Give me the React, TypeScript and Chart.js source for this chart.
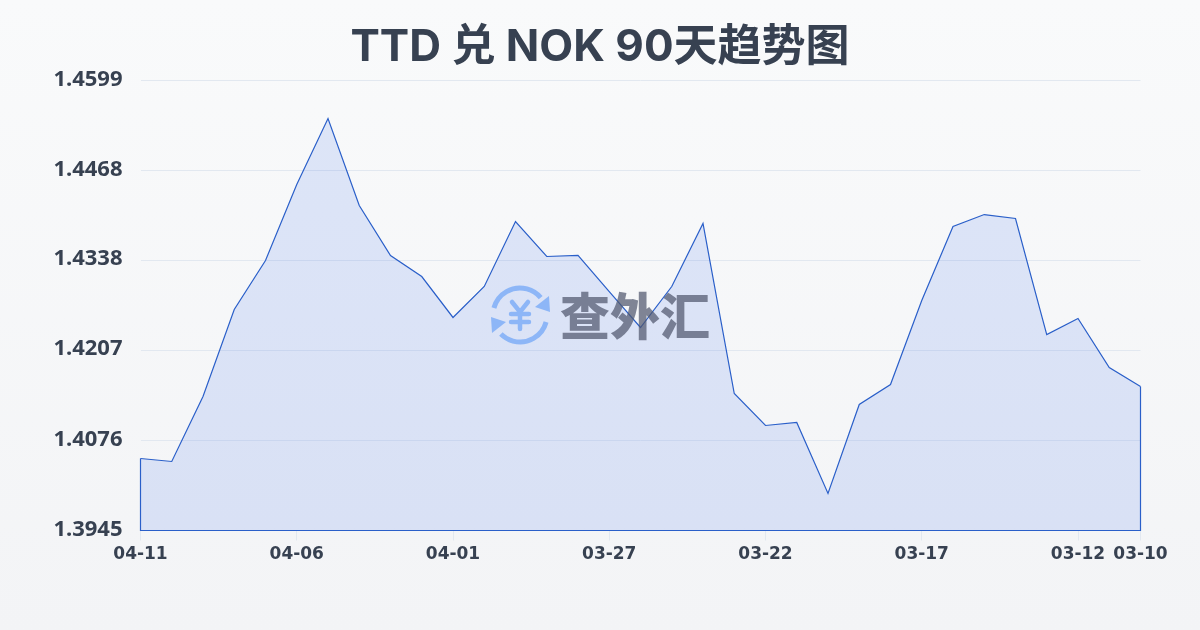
import React, { useEffect, useRef } from 'react';
import { Chart, registerables } from 'chart.js';

Chart.register(...registerables);

const dates = [
  '04-11', '04-10', '04-09', '04-08', '04-07', '04-06', '04-05', '04-04', '04-03', '04-02', '04-01',
  '03-31', '03-30', '03-29', '03-28', '03-27', '03-26', '03-25', '03-24', '03-23', '03-22',
  '03-21', '03-20', '03-19', '03-18', '03-17', '03-16', '03-15', '03-14', '03-13', '03-12', '03-11', '03-10',
];

const rates = [
  1.40496, 1.40453, 1.41397, 1.42662, 1.43374, 1.44478, 1.45438, 1.44173, 1.43447, 1.43141, 1.42546,
  1.42996, 1.43941, 1.43432, 1.43447, 1.42923, 1.424, 1.42996, 1.43912, 1.41441, 1.40976,
  1.4102, 1.39988, 1.41281, 1.41572, 1.42793, 1.43868, 1.44042, 1.43984, 1.42298, 1.42531, 1.41819, 1.41543,
];

const yTicks = [1.3945, 1.4076, 1.4207, 1.4338, 1.4468, 1.4599];
const xTickDates = ['04-11', '04-06', '04-01', '03-27', '03-22', '03-17', '03-12', '03-10'];

const LINE_COLOR = '#2a5fc9';
const TEXT_COLOR = '#374151';
const ICON_COLOR = '#8db6f7';

// closes the area outline down the sides and along the baseline
const outlinePlugin = {
  id: 'outline',
  afterDatasetsDraw(chart: Chart) {
    const pts = chart.getDatasetMeta(0).data;
    const first = pts[0];
    const last = pts[pts.length - 1];
    const bottom = chart.scales.y.getPixelForValue(yTicks[0]);
    const ctx = chart.ctx;
    ctx.save();
    ctx.strokeStyle = LINE_COLOR;
    ctx.lineWidth = 1.2;
    ctx.beginPath();
    ctx.moveTo(first.x, first.y);
    ctx.lineTo(first.x, bottom);
    ctx.lineTo(last.x, bottom);
    ctx.lineTo(last.x, last.y);
    ctx.stroke();
    ctx.restore();
  },
};

const deg = (d: number) => (d * Math.PI) / 180;

const watermarkPlugin = {
  id: 'watermark',
  afterDraw(chart: Chart) {
    const ctx = chart.ctx;
    const cx = 520;
    const cy = 315;
    const r = 27;
    ctx.save();
    ctx.strokeStyle = ICON_COLOR;
    ctx.fillStyle = ICON_COLOR;
    ctx.lineWidth = 5;
    ctx.beginPath();
    ctx.arc(cx, cy, r, deg(195), deg(320));
    ctx.stroke();
    ctx.beginPath();
    ctx.arc(cx, cy, r, deg(15), deg(135));
    ctx.stroke();
    // arrow heads
    ctx.beginPath();
    ctx.moveTo(535, 307);
    ctx.lineTo(549, 296);
    ctx.lineTo(550, 312);
    ctx.closePath();
    ctx.fill();
    ctx.beginPath();
    ctx.moveTo(491, 317);
    ctx.lineTo(506, 322);
    ctx.lineTo(492, 333);
    ctx.closePath();
    ctx.fill();
    // yen sign
    ctx.lineWidth = 4.5;
    ctx.lineCap = 'round';
    ctx.beginPath();
    ctx.moveTo(512, 302);
    ctx.lineTo(520, 312);
    ctx.lineTo(528, 302);
    ctx.moveTo(520, 312);
    ctx.lineTo(520, 329);
    ctx.moveTo(511, 314);
    ctx.lineTo(529, 314);
    ctx.moveTo(511, 322);
    ctx.lineTo(529, 322);
    ctx.stroke();
    ctx.fillStyle = 'rgba(80, 88, 110, 0.72)';
    ctx.font = '900 50px "Noto Sans CJK SC"';
    ctx.textAlign = 'left';
    ctx.textBaseline = 'middle';
    ctx.fillText('查外汇', 560, 316);
    ctx.restore();
  },
};

const App: React.FC = () => {
  const canvasRef = useRef<HTMLCanvasElement | null>(null);

  useEffect(() => {
    document.body.style.margin = '0';
    if (!canvasRef.current) return;

    const chart = new Chart(canvasRef.current, {
      type: 'line',
      data: {
        labels: dates,
        datasets: [
          {
            data: rates,
            borderColor: LINE_COLOR,
            borderWidth: 1.2,
            backgroundColor: 'rgba(66, 115, 232, 0.15)',
            fill: 'origin',
            pointRadius: 0,
            tension: 0,
          },
        ],
      },
      options: {
        responsive: false,
        animation: false,
        layout: { padding: 0 },
        plugins: {
          legend: { display: false },
          tooltip: { enabled: false },
          title: {
            display: true,
            text: 'TTD 兑 NOK 90天趋势图',
            color: TEXT_COLOR,
            font: { size: 44, weight: 'bold', family: 'Inter, "Noto Sans CJK SC"' },
            padding: { top: 21, bottom: 6.7 },
          },
        },
        scales: {
          x: {
            afterBuildTicks(scale: any) {
              scale.ticks = scale.ticks.filter((t: any) => xTickDates.includes(dates[t.value]));
            },
            afterFit(scale: any) {
              scale.height = 99.5;
            },
            ticks: {
              autoSkip: false,
              maxRotation: 0,
              color: TEXT_COLOR,
              padding: 4,
              font: { size: 17, weight: 'bold', family: '"DejaVu Sans"' },
              callback: (value: any) => dates[value],
            },
            grid: { drawOnChartArea: false, color: '#e2e8f0', tickLength: 10 },
            border: { display: false },
          },
          y: {
            min: yTicks[0],
            max: yTicks[yTicks.length - 1],
            afterBuildTicks(scale: any) {
              scale.ticks = yTicks.map((value) => ({ value }));
            },
            afterFit(scale: any) {
              scale.width = 140.5;
            },
            ticks: {
              color: TEXT_COLOR,
              padding: 18,
              labelOffset: -1,
              font: { size: 22, weight: 'bold', family: '"Noto Sans"' },
              callback: (value: any) => Number(value).toFixed(4),
            },
            grid: { color: '#e2e8f0', lineWidth: 1, drawTicks: false },
            border: { display: false },
          },
          // empty axis, only holds the right margin so the title stays centred on the page
          margin: {
            position: 'right',
            afterFit(scale: any) {
              scale.width = 59.5;
            },
            ticks: { display: false },
            grid: { display: false },
            border: { display: false },
          },
        },
      },
      plugins: [outlinePlugin, watermarkPlugin],
    });

    return () => {
      chart.destroy();
    };
  }, []);

  return (
    <div
      style={{
        width: 1200,
        height: 630,
        background: 'linear-gradient(180deg, #f9fafb 0%, #f3f4f6 100%)',
      }}
    >
      <canvas ref={canvasRef} width={1200} height={630} style={{ display: 'block' }} />
    </div>
  );
};

export default App;
